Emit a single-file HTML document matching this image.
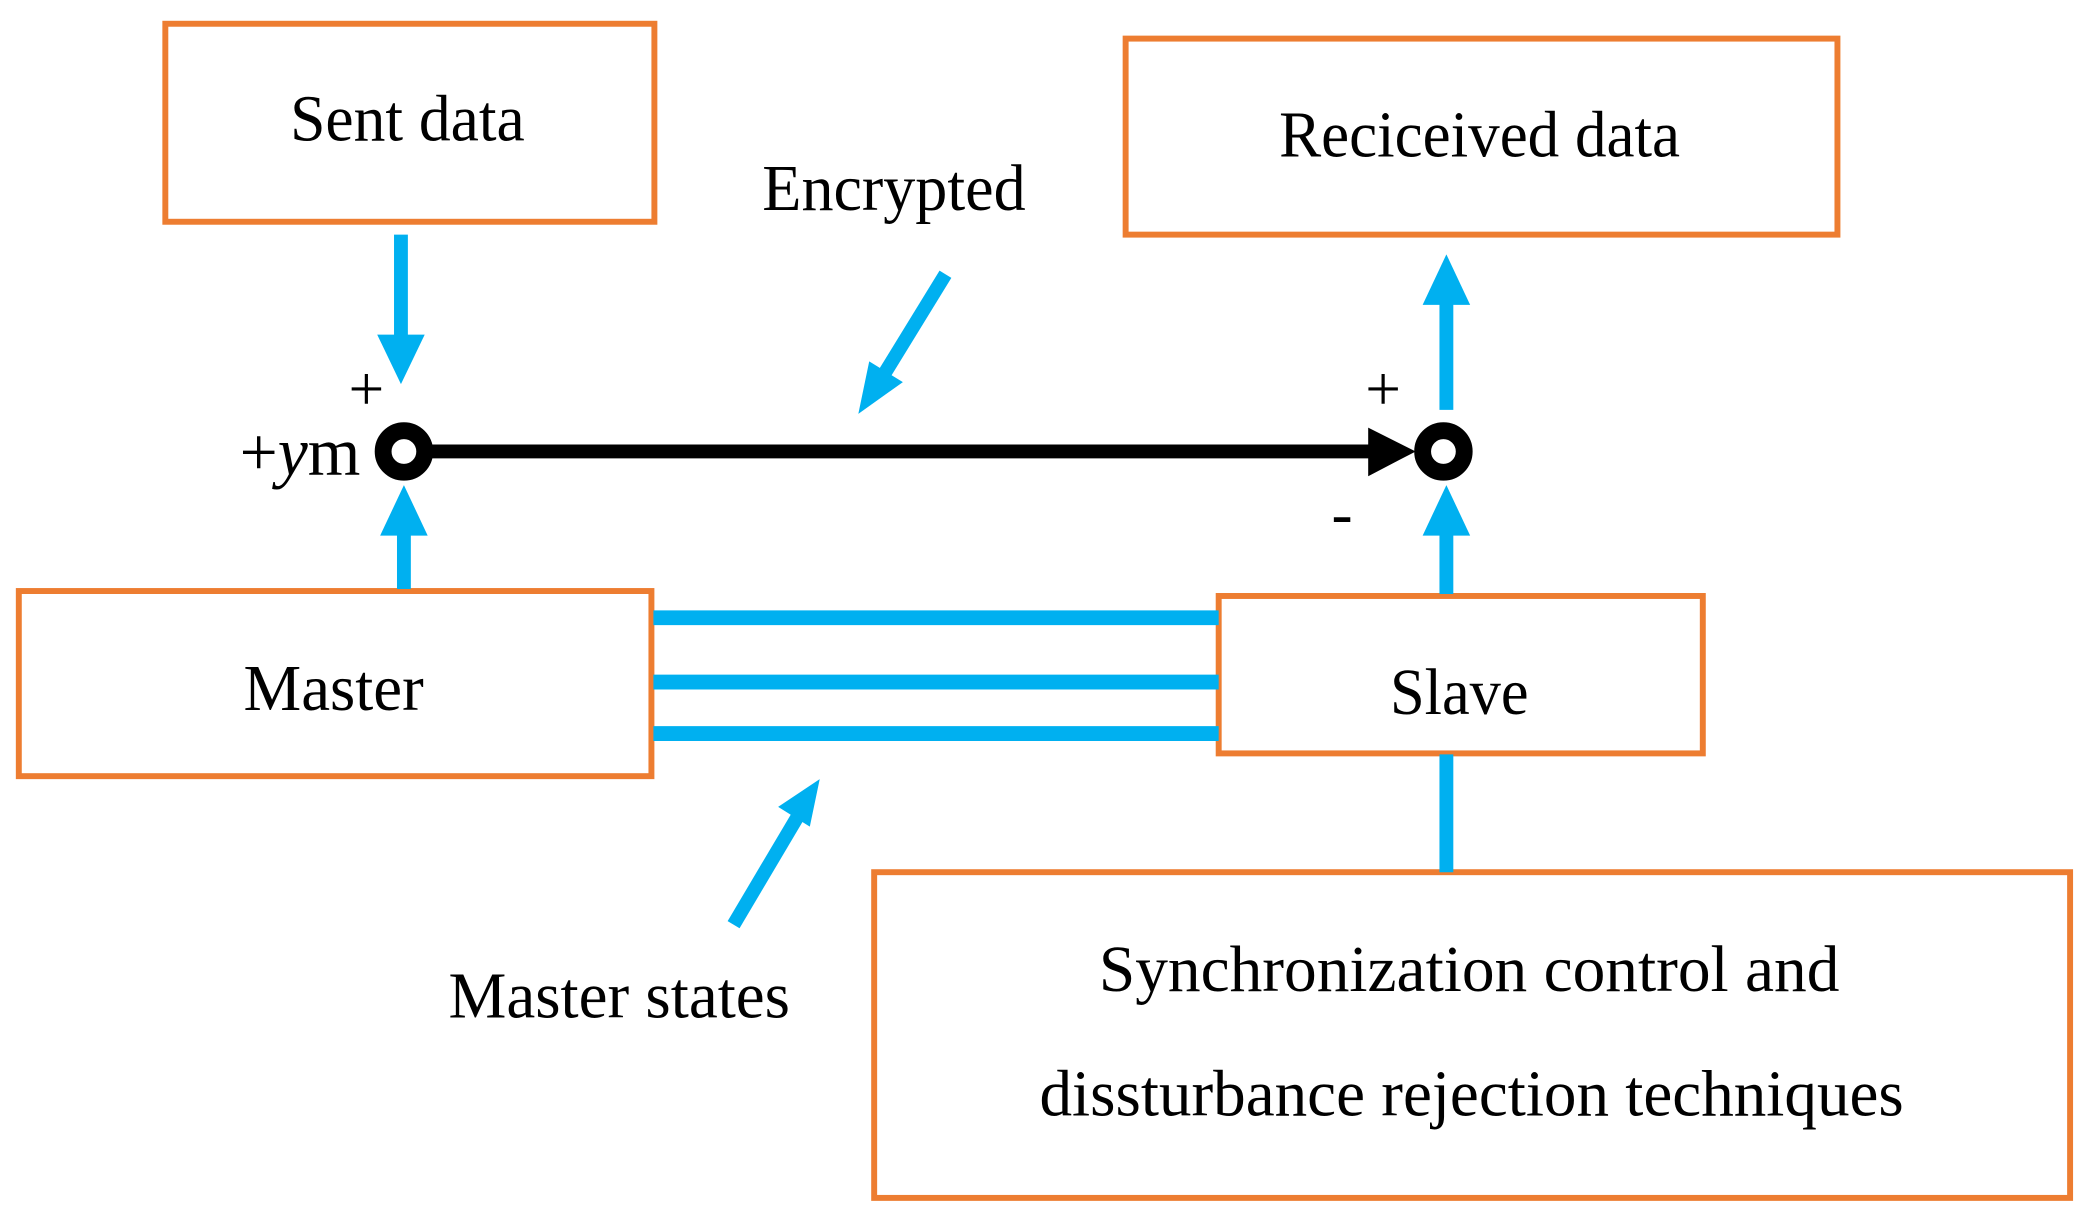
<!DOCTYPE html>
<html><head><style>html,body{margin:0;padding:0;background:#fff}svg{display:block}</style></head>
<body>
<svg width="2100" height="1217" viewBox="0 0 2100 1217" xmlns="http://www.w3.org/2000/svg" font-family="'Liberation Serif', serif" fill="#000">
<g transform="scale(0.99)">
<g fill="none" stroke="#ED7D31" stroke-width="6">
<rect x="167" y="24" width="494" height="200"/>
<rect x="1137" y="39" width="719" height="198"/>
<rect x="19" y="597" width="639" height="187"/>
<rect x="1231" y="602" width="489" height="159"/>
<rect x="883" y="881" width="1208" height="329"/>
</g>
<g stroke="#00B0F0" stroke-width="15">
<line x1="660" y1="624" x2="1231" y2="624"/>
<line x1="660" y1="689" x2="1231" y2="689"/>
<line x1="660" y1="741" x2="1231" y2="741"/>
</g>
<g stroke="#00B0F0" stroke-width="14" fill="none">
<line x1="405" y1="237" x2="405" y2="340"/>
<line x1="408" y1="595" x2="408" y2="538"/>
<line x1="1461" y1="600" x2="1461" y2="538"/>
<line x1="1461" y1="414" x2="1461" y2="305"/>
<line x1="1461" y1="762" x2="1461" y2="881"/>
<line x1="955" y1="277" x2="893" y2="378"/>
<line x1="741" y1="934" x2="805" y2="826"/>
</g>
<g fill="#00B0F0">
<polygon points="381,338 429,338 405,388"/>
<polygon points="384,541 432,541 408,490"/>
<polygon points="1437,541 1485,541 1461,490"/>
<polygon points="1437,308 1485,308 1461,257"/>
<polygon points="867,418 878,365 912,386"/>
<polygon points="828,787 786,815 818,835"/>
</g>
<line x1="430" y1="456" x2="1390" y2="456" stroke="#000" stroke-width="14"/>
<polygon points="1382,432 1382,481 1430,456" fill="#000"/>
<circle cx="408" cy="456" r="21" fill="#fff" stroke="#000" stroke-width="17"/>
<circle cx="1458" cy="456" r="21" fill="#fff" stroke="#000" stroke-width="17"/>
<g font-size="66">
<text x="293" y="142" textLength="237" lengthAdjust="spacingAndGlyphs">Sent data</text>
<text x="1292" y="158" textLength="405" lengthAdjust="spacingAndGlyphs">Reciceived data</text>
<text x="770" y="212" textLength="266" lengthAdjust="spacingAndGlyphs">Encrypted</text>
<text x="246" y="717" textLength="182" lengthAdjust="spacingAndGlyphs">Master</text>
<text x="1404" y="721" textLength="140" lengthAdjust="spacingAndGlyphs">Slave</text>
<text x="453" y="1028" textLength="345" lengthAdjust="spacingAndGlyphs">Master states</text>
<text x="1110" y="1001" textLength="748" lengthAdjust="spacingAndGlyphs">Synchronization control and</text>
<text x="1050" y="1127" textLength="873" lengthAdjust="spacingAndGlyphs">dissturbance rejection techniques</text>
<text x="242" y="480" font-size="70" textLength="122" lengthAdjust="spacingAndGlyphs">+<tspan font-style="italic">y</tspan>m</text>
</g>
<g font-size="64">
<text x="352" y="414">+</text>
<text x="1379" y="414">+</text>
<text x="1345" y="540">-</text>
</g>
</g>
</svg>
</body></html>
